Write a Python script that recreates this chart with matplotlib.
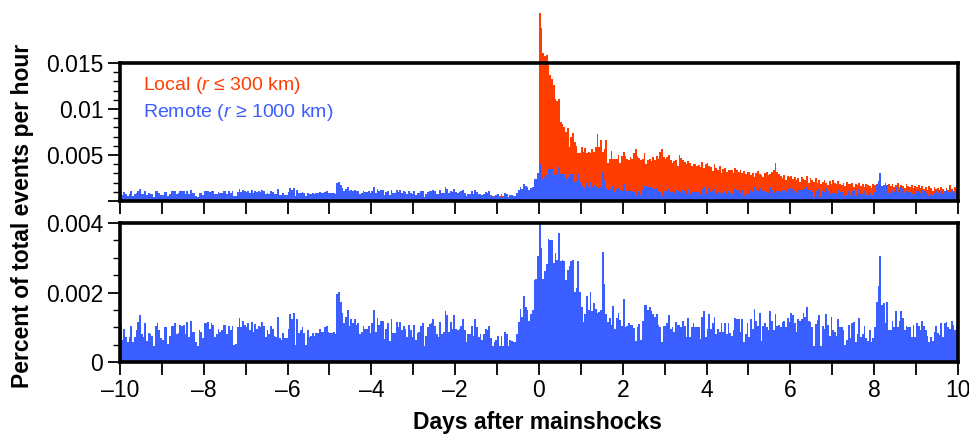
import numpy as np
import matplotlib
matplotlib.use("Agg")
import matplotlib.pyplot as plt
from matplotlib.ticker import MultipleLocator

plt.rcParams['font.family'] = ['Liberation Sans', 'DejaVu Sans']
plt.rcParams['mathtext.fontset'] = 'custom'
plt.rcParams['mathtext.it'] = 'Liberation Sans:italic'
plt.rcParams['mathtext.rm'] = 'Liberation Sans'

# hourly rates, units of 1e-5 percent of total events per hour
# one row = one day (24 hourly bins)
remote_pre = [
    107, 63, 95, 73, 59, 73, 104, 59, 73, 92, 114, 135, 81, 73, 111, 60, 83, 80, 75, 46, 104, 111, 92, 68,   # -10
    63, 100, 100, 52, 75, 104, 104, 111, 81, 83, 106, 104, 106, 80, 114, 71, 118, 85, 85, 58, 46, 91, 85, 68,  # -9
    111, 111, 114, 95, 111, 106, 71, 80, 95, 85, 92, 106, 106, 80, 104, 91, 104, 49, 52, 100, 126, 100, 118, 106,  # -8
    100, 111, 92, 115, 85, 110, 96, 104, 102, 115, 104, 73, 92, 81, 104, 96, 75, 73, 129, 69, 63, 83, 69, 69,  # -7
    95, 138, 124, 141, 50, 124, 83, 92, 101, 83, 49, 92, 73, 75, 83, 75, 83, 83, 94, 86, 86, 100, 104, 85,  # -6
    83, 83, 85, 80, 196, 202, 173, 141, 111, 130, 150, 104, 124, 111, 124, 106, 111, 81, 87, 104, 94, 96, 104, 84,  # -5
    111, 150, 85, 126, 106, 118, 118, 65, 94, 111, 61, 124, 84, 83, 115, 100, 115, 92, 104, 95, 73, 106, 92, 73,  # -4
    106, 63, 84, 86, 104, 111, 46, 75, 100, 108, 111, 124, 104, 81, 71, 115, 82, 86, 147, 135, 86, 114, 95, 135,  # -3
    95, 92, 95, 104, 124, 92, 58, 81, 81, 104, 75, 124, 101, 73, 81, 63, 81, 95, 92, 104, 68, 46, 58, 63,  # -2
    75, 46, 75, 46, 86, 81, 46, 63, 60, 58, 58, 82, 115, 152, 130, 190, 159, 150, 119, 138, 150, 236, 239, 305,  # -1
]
remote_post = [
    403, 327, 239, 262, 282, 353, 351, 351, 284, 313, 295, 372, 292, 293, 292, 236, 265, 276, 291, 293, 202, 214, 291, 202,  # 0
    159, 115, 138, 191, 150, 202, 148, 169, 152, 140, 145, 150, 317, 224, 138, 116, 128, 106, 161, 96, 126, 140, 121, 104,  # 1
    180, 102, 104, 111, 106, 106, 97, 61, 102, 110, 62, 118, 164, 164, 150, 157, 147, 138, 129, 138, 107, 102, 58, 104,  # 2
    104, 111, 135, 94, 100, 87, 116, 106, 106, 100, 118, 104, 73, 126, 73, 100, 111, 100, 100, 100, 65, 129, 147, 73,  # 3
    95, 138, 95, 111, 129, 81, 95, 87, 111, 87, 113, 81, 111, 83, 76, 92, 126, 124, 124, 86, 124, 58, 81, 111,  # 4
    73, 124, 95, 153, 118, 104, 141, 60, 104, 111, 100, 92, 147, 118, 92, 138, 104, 106, 100, 115, 118, 100, 127, 115,  # 5
    141, 135, 113, 86, 124, 118, 124, 141, 130, 157, 118, 115, 101, 46, 110, 120, 135, 46, 104, 95, 138, 106, 75, 129,  # 6
    92, 86, 75, 124, 101, 101, 92, 49, 63, 106, 69, 111, 115, 58, 81, 127, 72, 81, 104, 69, 60, 92, 58, 69,  # 7
    101, 173, 219, 305, 164, 170, 111, 173, 92, 92, 118, 101, 147, 101, 118, 147, 127, 92, 104, 101, 101, 72, 106, 72,  # 8
    111, 104, 92, 118, 104, 92, 75, 58, 72, 60, 86, 104, 83, 78, 111, 72, 111, 115, 100, 95, 118, 106, 92, 110,  # 9
]

local_pre = [
    38, 42, 35, 40, 33, 44, 39, 36, 41, 37, 45, 40, 36, 43, 38, 35, 42, 39, 37, 34, 41, 38, 44, 36,
    40, 37, 43, 35, 39, 41, 36, 44, 38, 40, 35, 42, 37, 39, 41, 36, 43, 38, 40, 35, 37, 42, 39, 36,
    41, 38, 36, 43, 40, 37, 42, 35, 39, 44, 38, 36, 41, 40, 37, 43, 39, 36, 42, 38, 40, 35, 41, 39,
    37, 43, 39, 36, 41, 38, 44, 35, 40, 37, 42, 39, 36, 41, 38, 43, 37, 40, 36, 42, 39, 38, 41, 37,
    42, 36, 40, 38, 35, 43, 37, 41, 39, 36, 42, 38, 40, 37, 44, 36, 41, 39, 38, 42, 37, 40, 36, 43,
    39, 41, 37, 44, 38, 40, 36, 42, 39, 37, 43, 38, 41, 36, 40, 42, 37, 39, 38, 41, 36, 43, 40, 38,
    36, 42, 39, 37, 41, 38, 43, 40, 36, 39, 42, 37, 41, 38, 40, 36, 43, 39, 37, 42, 38, 40, 41, 37,
    42, 38, 40, 36, 43, 39, 37, 41, 38, 44, 36, 40, 42, 37, 39, 41, 38, 36, 43, 40, 37, 42, 39, 41,
    40, 37, 42, 39, 36, 41, 38, 43, 40, 37, 42, 39, 41, 38, 44, 40, 37, 42, 39, 41, 45, 50, 55, 56,
    40, 52, 38, 55, 42, 45, 40, 48, 50, 52, 45, 50, 60, 62, 58, 70, 66, 72, 68, 80, 90, 110, 130, 160,
]
local_post = [
    2040, 1877, 1604, 1576, 1583, 1478, 1370, 1323, 1261, 1105, 1091, 1105, 862, 837, 808, 754, 790, 590, 699, 736, 645, 601, 525, 518,  # 0
    590, 536, 573, 518, 536, 518, 560, 536, 590, 733, 590, 663, 536, 560, 663, 416, 453, 540, 453, 453, 453, 496, 416, 489,  # 1
    536, 489, 453, 446, 480, 460, 518, 560, 489, 468, 446, 453, 518, 400, 446, 460, 430, 475, 446, 489, 453, 536, 560, 475,  # 2
    460, 475, 496, 446, 410, 430, 446, 380, 496, 471, 446, 420, 400, 430, 410, 380, 405, 400, 380, 390, 370, 420, 360, 400,  # 3
    409, 380, 374, 330, 400, 360, 337, 380, 300, 345, 360, 320, 340, 337, 337, 300, 360, 337, 310, 340, 300, 330, 290, 320,  # 4
    310, 280, 300, 265, 301, 330, 290, 280, 260, 300, 320, 280, 290, 310, 340, 409, 320, 290, 270, 250, 280, 230, 270, 260,  # 5
    270, 240, 260, 230, 250, 210, 260, 240, 230, 275, 200, 250, 230, 210, 250, 200, 230, 180, 210, 230, 200, 170, 220, 190,  # 6
    230, 200, 180, 220, 190, 170, 200, 160, 210, 190, 180, 200, 150, 190, 175, 200, 165, 180, 150, 190, 170, 160, 140, 180,  # 7
    170, 180, 160, 190, 150, 175, 200, 165, 180, 160, 190, 155, 170, 200, 150, 175, 160, 140, 180, 165, 150, 170, 140, 160,  # 8
    150, 170, 140, 160, 130, 150, 120, 160, 140, 110, 150, 130, 145, 120, 150, 130, 110, 140, 120, 175, 130, 110, 150, 125,  # 9
]

x_ticklabels = ["\u201310", "\u20138", "\u20136", "\u20134", "\u20132", "0", "2", "4", "6", "8", "10"]

RED = "#ff3d00"
BLUE = "#3a5eff"

remote = np.array(remote_pre + remote_post) * 1e-5
local = np.array(local_pre + local_post) * 1e-5
edges = np.linspace(-10, 10, len(remote) + 1)

fig = plt.figure(figsize=(9.69, 4.36), dpi=100)
ax1 = fig.add_axes([0.1238, 0.539, 0.8648, 0.3165])
ax2 = fig.add_axes([0.1238, 0.1697, 0.8648, 0.3188])

ax1.stairs(local, edges, fill=True, color=RED, linewidth=0, clip_on=False)
ax1.stairs(remote, edges, fill=True, color=BLUE, linewidth=0, clip_on=False)
ax2.stairs(remote, edges, fill=True, color=BLUE, linewidth=0)

ax1.set_ylim(0, 0.015)
ax1.set_yticks([0, 0.005, 0.01, 0.015], ["", "0.005", "0.01", "0.015"])
ax1.yaxis.set_minor_locator(MultipleLocator(0.001))
ax2.set_ylim(0, 0.004)
ax2.set_yticks([0, 0.002, 0.004], ["0", "0.002", "0.004"])
ax2.yaxis.set_minor_locator(MultipleLocator(0.0005))

for ax in (ax1, ax2):
    ax.set_xlim(-10, 10)
    ax.set_xticks(np.arange(-10, 11, 1))
    for s in ax.spines.values():
        s.set_linewidth(2.6)
        s.set_zorder(5)
    ax.tick_params(axis="both", which="major", direction="out", length=9, width=1.3,
                   labelsize=16.5, pad=3)
    ax.tick_params(axis="y", which="minor", direction="out", length=5, width=1.0)

ax1.tick_params(axis="x", labelbottom=False)
ax2.set_xticks(np.arange(-10, 11, 2), x_ticklabels)
ax2.set_xticks(np.arange(-10, 11, 1), minor=True)
ax2.tick_params(axis="x", which="minor", direction="out", length=9, width=1.3)

ax1.text(0.028, 0.84, "Local ($r$ \u2264 300 km)", color=RED, fontsize=14,
         transform=ax1.transAxes, va="center")
ax1.text(0.028, 0.638, "Remote ($r$ \u2265 1000 km)", color=BLUE, fontsize=14,
         transform=ax1.transAxes, va="center")

fig.text(0.023, 0.505, "Percent of total events per hour", rotation=90,
         fontsize=16.5, fontweight="bold", ha="center", va="center")
fig.text(0.555, 0.032, "Days after mainshocks", fontsize=16.5, fontweight="bold",
         ha="center", va="center")

fig.savefig("out.png", dpi=100)
